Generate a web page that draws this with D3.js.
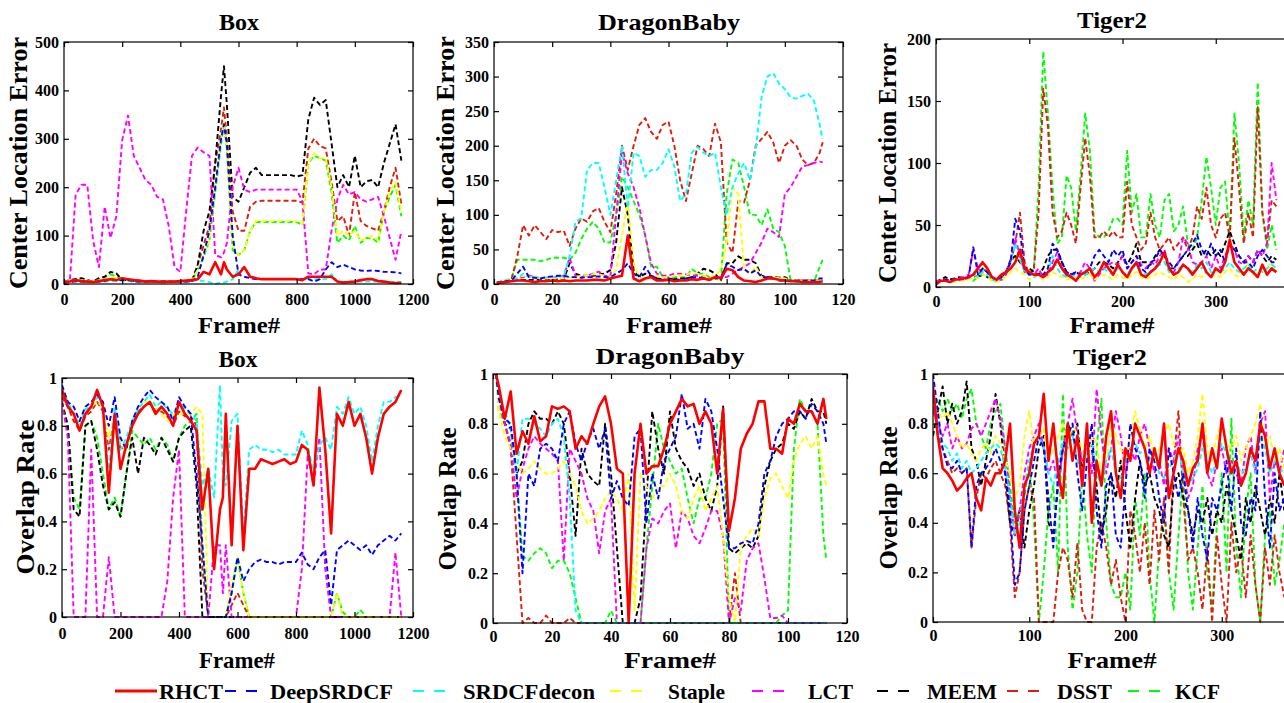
<!DOCTYPE html>
<html><head><meta charset="utf-8">
<script src="https://cdn.jsdelivr.net/npm/d3@7"></script>
<style>
body{margin:0;background:#fff;}
svg text{font-family:"Liberation Serif","Times New Roman",serif;font-weight:bold;fill:#000;}
</style></head><body>
<svg id="chart" width="1284" height="703"></svg>
<script>
// ---------------- DATA ----------------
const seriesNames = ["RHCT","DeepSRDCF","SRDCFdecon","Staple","LCT","MEEM","DSST","KCF"];
const seriesColors = ["#ff0000","#0000ff","#00ffff","#ffff00","#ff00ff","#000000","#dc1e0e","#00ff00"];

// tick values / labels
const boxXTicks = [0,200,400,600,800,1000,1200];
const dbXTicks = [0,20,40,60,80,100,120];
const t2XTicks = [0,100,200,300];
const boxCleYTicks = [0,100,200,300,400,500];
const dbCleYTicks = [0,50,100,150,200,250,300,350];
const t2CleYTicks = [0,50,100,150,200];
const orYTicks = [0,0.2,0.4,0.6,0.8,1];
const orYTickLabels = ["0","0.2","0.4","0.6","0.8","1"];

// ---- Box ----
const boxFrames = [0,20,40,60,80,100,120,140,160,180,
 200,220,240,260,280,300,320,340,360,380,
 400,420,440,460,480,500,520,540,550,560,
 580,600,620,640,660,680,700,720,740,760,
 780,800,820,840,860,880,900,920,940,960,
 980,1000,1020,1040,1060,1080,1100,1120,1140,1160];

const boxCleRHCT = [3,5,8,6,5,4,6,8,10,8, 12,10,8,7,5,6,5,4,5,5, 6,7,8,10,25,20,45,20,45,30, 15,20,35,15,12,10,10,10,10,10, 10,10,8,15,15,15,15,15,5,3, 4,5,8,10,10,6,5,3,2,2];
const boxCleDeepSRDCF = [3,4,6,5,4,4,5,6,10,8, 8,8,6,5,5,5,5,4,4,5, 5,5,6,15,60,110,200,300,330,290, 100,20,15,12,10,10,10,10,10,10, 10,10,10,10,5,10,30,45,35,40, 35,30,28,27,28,27,25,25,24,22];
const boxCleSRDCFdecon = [3,4,5,5,4,4,5,5,6,6, 7,6,5,5,5,4,4,4,4,4, 5,5,6,8,6,4,0,3,3,5, 10,30,35,15,10,10,10,10,10,10, 10,10,10,10,10,10,10,20,5,5, 5,5,5,5,5,5,5,4,4,4];
const boxCleStaple = [5,6,8,8,6,5,8,10,15,12, 10,8,6,6,5,5,5,5,5,5, 6,6,7,30,60,90,200,300,335,290, 80,60,70,110,130,130,130,130,130,130, 130,130,125,250,270,260,260,200,100,110, 100,110,90,95,100,90,150,190,210,150];
const boxCleLCT = [5,5,185,205,205,90,35,160,95,140, 297,348,265,240,215,205,180,175,120,35, 25,150,265,282,272,265,60,55,65,85, 200,240,195,190,195,195,195,195,195,195, 195,195,170,22,20,30,30,110,175,205, 185,190,175,170,175,180,140,95,50,110];
const boxCleMEEM = [5,8,10,12,8,5,12,15,25,22, 8,8,6,5,5,5,5,6,5,5, 5,5,6,40,110,150,250,390,450,370, 180,170,200,230,240,225,225,225,225,225, 225,222,225,340,385,370,380,290,200,225, 200,265,200,212,215,200,250,290,330,255];
const boxCleDSST = [4,5,6,6,5,5,6,8,10,8, 8,7,5,5,5,5,5,5,5,5, 5,6,7,40,80,120,250,320,365,300, 150,110,110,160,170,172,172,172,172,172, 172,172,168,280,300,285,280,210,130,140, 100,190,130,120,115,110,150,200,240,165];
const boxCleKCF = [5,6,10,10,8,5,10,12,20,15, 12,8,6,6,5,5,5,5,5,5, 6,6,7,30,55,90,190,290,330,280, 70,60,70,110,128,128,128,128,128,128, 128,128,122,250,265,260,255,190,85,100, 90,120,85,95,95,85,150,180,205,140];

const boxOrRHCT = [0.95,0.88,0.85,0.78,0.85,0.88,0.95,0.88,0.52,0.85, 0.62,0.72,0.8,0.85,0.88,0.9,0.85,0.88,0.85,0.8, 0.9,0.85,0.82,0.78,0.45,0.62,0.2,0.45,0.5,0.85, 0.3,0.8,0.28,0.62,0.62,0.66,0.65,0.64,0.65,0.66, 0.64,0.65,0.72,0.7,0.55,0.96,0.7,0.35,0.85,0.8, 0.9,0.8,0.85,0.75,0.6,0.75,0.85,0.88,0.9,0.95];
const boxOrDeepSRDCF = [0.97,0.9,0.88,0.82,0.88,0.9,0.93,0.9,0.8,0.92, 0.75,0.7,0.82,0.88,0.92,0.95,0.92,0.9,0.88,0.82, 0.92,0.88,0.85,0.6,0.3,0,0,0,0,0, 0.1,0.25,0.15,0.2,0.23,0.24,0.23,0.23,0.22,0.23, 0.23,0.23,0.27,0.22,0.2,0.25,0.28,0.05,0.28,0.3, 0.32,0.3,0.28,0.3,0.26,0.3,0.32,0.34,0.32,0.35];
const boxOrSRDCFdecon = [0.95,0.9,0.85,0.8,0.87,0.88,0.92,0.9,0.6,0.88, 0.7,0.75,0.82,0.87,0.9,0.93,0.88,0.9,0.87,0.85, 0.9,0.87,0.85,0.82,0.55,0.62,0.5,0.97,0.6,0.55, 0.82,0.85,0.35,0.7,0.72,0.7,0.7,0.69,0.7,0.68, 0.68,0.68,0.78,0.72,0.6,0.72,0.75,0.7,0.88,0.85, 0.92,0.85,0.88,0.8,0.65,0.8,0.9,0.9,0.92,0.93];
const boxOrStaple = [0.95,0.9,0.85,0.8,0.85,0.88,0.9,0.88,0.75,0.85, 0.72,0.7,0.8,0.88,0.9,0.9,0.88,0.85,0.82,0.85, 0.85,0.85,0.85,0.88,0.85,0,0,0,0,0, 0.15,0.25,0.1,0,0,0,0,0,0,0, 0,0,0,0,0,0,0,0,0.1,0, 0,0,0,0,0,0,0,0,0,0];
const boxOrLCT = [0.9,0.75,0,0,0,0.7,0,0,0.25,0, 0,0,0,0,0,0,0,0,0.15,0.5, 0.7,0,0,0,0,0,0.3,0.3,0.1,0.3, 0,0,0,0,0,0,0,0,0,0, 0,0,0.2,0.68,0.55,0.75,0.2,0,0,0, 0,0,0,0,0,0,0,0,0.27,0];
const boxOrMEEM = [0.9,0.8,0.45,0.42,0.8,0.82,0.7,0.55,0.45,0.48, 0.42,0.6,0.75,0.6,0.75,0.72,0.68,0.75,0.7,0.65, 0.75,0.78,0.8,0.55,0,0,0,0,0,0, 0,0,0,0,0,0,0,0,0,0, 0,0,0,0,0,0,0,0,0,0, 0,0,0,0,0,0,0,0,0,0];
const boxOrDSST = [0.92,0.88,0.82,0.78,0.84,0.86,0.9,0.86,0.7,0.84, 0.7,0.72,0.8,0.86,0.88,0.9,0.86,0.86,0.84,0.8, 0.86,0.84,0.84,0.8,0.2,0,0,0,0,0, 0.05,0.1,0.05,0,0,0,0,0,0,0, 0,0,0,0,0,0,0,0,0,0, 0,0,0,0,0,0,0,0,0,0];
const boxOrKCF = [0.9,0.8,0.5,0.45,0.8,0.82,0.75,0.6,0.45,0.5, 0.42,0.6,0.78,0.75,0.72,0.75,0.7,0.75,0.72,0.65, 0.75,0.8,0.82,0.85,0.3,0,0,0,0,0, 0.1,0.25,0.1,0,0,0,0,0,0,0, 0,0,0,0,0,0,0,0,0.1,0.02, 0,0,0.03,0,0,0,0,0,0,0];

// ---- DragonBaby ----
const dbFrames = [1,2,4,6,8,10,12,14,16,18, 20,22,24,26,28,30,32,34,36,38, 40,42,44,46,48,50,52,54,56,58, 60,62,64,66,68,70,72,74,76,78, 80,82,84,86,88,90,92,94,96,98, 100,102,104,106,108,110,112,113];

const dbCleRHCT = [1,2,3,4,5,5,4,3,4,4, 5,4,5,4,5,5,5,6,6,5, 8,10,12,70,8,4,8,10,5,5, 6,4,5,5,7,6,8,6,10,8, 22,20,10,5,4,3,5,8,8,6, 5,4,4,3,3,3,3,4];
const dbCleDeepSRDCF = [2,3,4,5,15,25,10,9,8,10, 11,12,12,10,10,9,10,10,11,10, 10,15,20,30,15,10,25,12,8,6, 8,7,6,8,10,10,8,6,8,10, 28,25,20,22,15,20,10,10,8,5, 5,5,5,5,5,5,8,8];
const dbCleSRDCFdecon = [2,3,5,6,8,15,10,10,9,9, 10,11,11,40,90,95,165,175,175,140, 100,150,200,110,190,185,155,165,165,175, 195,170,120,130,190,198,190,185,190,140, 100,140,160,175,150,195,270,300,305,290, 282,270,268,272,275,265,230,210];
const dbCleStaple = [2,3,5,8,10,12,10,10,8,8, 8,8,8,10,10,12,12,14,14,12, 10,20,70,120,30,10,8,10,12,10, 10,12,12,14,16,15,12,10,12,20, 60,140,130,20,15,25,10,8,8,10, 8,6,5,5,5,5,5,8];
const dbCleLCT = [2,3,4,5,8,10,12,10,8,9, 10,10,12,38,12,10,12,15,18,12, 10,100,190,160,140,110,70,30,15,12, 12,15,15,14,13,12,10,10,10,10, 10,15,20,25,30,45,60,80,75,68, 130,140,155,170,172,175,177,176];
const dbCleMEEM = [2,3,4,5,6,6,6,6,6,6, 6,7,7,30,15,12,12,12,14,15, 20,60,140,100,20,10,15,12,8,7, 6,7,8,8,10,15,22,20,15,5, 30,30,40,35,35,30,12,10,10,10, 10,5,5,5,5,5,5,5];
const dbCleDSST = [0,2,4,6,40,85,70,85,75,65, 78,75,77,55,80,95,90,105,110,90, 75,130,200,165,200,230,240,220,210,230, 235,200,150,120,160,200,195,185,232,205, 60,45,120,118,150,200,210,220,205,175, 200,208,200,180,172,175,190,205];
const dbCleKCF = [2,3,5,8,35,35,35,35,33,35, 38,38,38,35,45,65,80,90,80,60, 60,100,155,140,120,100,70,25,25,10, 10,10,10,10,22,15,15,10,8,5, 130,180,175,140,100,100,85,108,80,75, 55,5,3,3,3,3,25,35];

const dbOrRHCT = [1.0,0.95,0.82,0.93,0.68,0.77,0.72,0.83,0.73,0.75, 0.87,0.86,0.87,0.85,0.7,0.75,0.72,0.8,0.87,0.91, 0.8,0.62,0.6,0,0.6,0.8,0.6,0.63,0.63,0.7, 0.8,0.85,0.9,0.87,0.88,0.8,0.85,0.8,0.6,0.86, 0.37,0.5,0.7,0.76,0.8,0.89,0.89,0.7,0.7,0.68, 0.82,0.8,0.88,0.85,0.85,0.8,0.9,0.82];
const dbOrDeepSRDCF = [1.0,0.9,0.82,0.8,0.6,0.2,0.6,0.55,0.7,0.72, 0.7,0.65,0.8,0.85,0.72,0.65,0.73,0.78,0.7,0.78, 0.5,0.57,0.5,0.47,0.75,0.78,0.4,0.6,0.5,0.65, 0.7,0.75,0.92,0.78,0.8,0.7,0.9,0.85,0.7,0.5, 0.3,0.3,0.32,0.33,0.32,0.4,0.6,0.65,0.75,0.8, 0.82,0.85,0.85,0.82,0.88,0.85,0.8,0.72];
const dbOrSRDCFdecon = [1.0,0.9,0.85,0.78,0.6,0.82,0.82,0.8,0.78,0.75, 0.8,0.82,0.75,0.5,0.05,0,0,0,0,0, 0,0,0,0,0,0,0,0,0,0, 0,0,0,0,0,0,0,0,0,0, 0,0,0,0,0,0,0,0,0,0, 0,0,0,0,0,0,0,0];
const dbOrStaple = [1.0,0.85,0.75,0.7,0.65,0.6,0.62,0.65,0.62,0.6, 0.6,0.62,0.65,0.6,0.55,0.45,0.4,0.42,0.45,0.5, 0.53,0.5,0.45,0.6,0.05,0.6,0.55,0.5,0.55,0.55, 0.6,0.55,0.45,0.42,0.5,0.55,0.45,0.5,0.55,0.35, 0.1,0,0.3,0.35,0.38,0.35,0.5,0.58,0.6,0.55, 0.5,0.65,0.72,0.75,0.7,0.75,0.6,0.55];
const dbOrLCT = [1.0,0.9,0.8,0.72,0.5,0.62,0.7,0.75,0.72,0.7, 0.68,0.65,0.25,0.7,0.65,0.6,0.5,0.45,0.28,0.45, 0.5,0,0,0,0,0,0.3,0.42,0.4,0.45, 0.48,0.3,0.45,0.42,0.35,0.32,0.38,0.45,0.45,0.35, 0,0.1,0.05,0.25,0.3,0.32,0.18,0.02,0.02,0.03, 0,0,0,0,0,0,0,0];
const dbOrMEEM = [1.0,0.92,0.8,0.78,0.6,0.65,0.8,0.85,0.82,0.82, 0.8,0.85,0.8,0.6,0.35,0.7,0.6,0.57,0.55,0.8, 0.6,0.3,0,0,0,0.1,0.5,0.85,0.7,0.6, 0.85,0.7,0.65,0.62,0.55,0.6,0.5,0.45,0.55,0.87, 0.3,0.28,0.3,0.32,0.3,0.35,0.55,0.65,0.7,0.72, 0.8,0.78,0.85,0.82,0.9,0.85,0.85,0.8];
const dbOrDSST = [1.0,0.9,0.8,0.7,0.35,0,0.02,0,0,0.03, 0,0,0,0.02,0,0,0,0,0,0, 0,0,0,0,0,0,0,0,0,0, 0,0,0,0,0,0,0,0,0,0, 0,0.2,0,0,0,0,0,0,0,0, 0,0,0,0,0,0,0,0];
const dbOrKCF = [1.0,0.85,0.8,0.72,0.6,0.27,0.25,0.28,0.3,0.28, 0.22,0.25,0.25,0.2,0.1,0,0,0,0,0, 0.05,0,0,0,0,0,0.3,0.55,0.8,0.7, 0.65,0.6,0.62,0.5,0.4,0.5,0.5,0.6,0.8,0.82, 0,0,0,0,0,0,0,0,0,0.03, 0.05,0.7,0.9,0.85,0.85,0.8,0.35,0.25];

// ---- Tiger2 ----
const t2Frames = [0,5,10,15,20,25,30,35,40,45, 50,55,60,65,70,75,80,85,90,95, 100,105,110,115,120,125,130,135,140,145, 150,155,160,165,170,175,180,185,190,195, 200,205,210,215,220,225,230,235,240,245, 250,255,260,265,270,275,280,285,290,295, 300,305,310,315,320,325,330,335,340,345, 350,355,360,365];

const t2CleRHCT = [2,5,5,4,6,6,7,8,10,15, 20,15,8,6,10,12,15,20,30,15, 12,10,10,8,12,15,22,15,10,8, 5,10,12,15,8,12,20,15,10,18, 12,8,15,20,10,8,12,15,20,28, 15,10,12,18,15,10,15,20,12,8, 15,12,20,38,20,15,10,15,12,8, 18,10,15,12];
const t2CleDeepSRDCF = [3,5,6,5,6,7,6,8,32,10, 15,12,8,6,8,12,20,55,45,15, 10,10,10,10,15,35,30,20,12,10, 12,10,12,15,25,30,25,20,30,25, 30,15,20,25,15,12,20,22,30,25, 20,15,20,25,30,35,42,30,25,35, 25,30,20,35,30,25,20,20,15,25, 30,25,20,20];
const t2CleSRDCFdecon = [3,5,5,4,5,6,6,7,10,8, 12,10,6,5,8,12,20,35,22,12, 10,8,10,8,12,25,15,10,8,8, 10,8,10,12,15,12,15,12,10,15, 12,10,15,18,12,10,12,15,18,20, 12,10,15,18,15,12,18,15,20,12, 15,12,15,20,15,12,15,18,12,15, 12,15,18,15];
const t2CleStaple = [3,4,5,4,4,5,5,6,8,7, 10,8,5,4,6,8,12,15,12,10, 6,8,10,6,8,12,10,8,6,7, 8,6,8,10,6,8,10,8,6,10, 8,6,10,12,8,6,8,10,12,10, 8,6,10,8,4,6,10,8,12,8, 10,8,12,15,10,8,12,20,10,8, 12,15,20,12];
const t2CleLCT = [5,5,5,6,6,8,8,10,30,15, 12,12,8,5,6,10,22,40,25,12, 10,10,15,8,10,20,28,15,12,10, 10,12,20,15,5,10,15,18,20,18, 25,15,20,25,18,15,20,18,25,30, 15,12,20,40,35,20,18,20,25,15, 25,15,25,35,30,20,18,25,20,30, 25,35,100,70];
const t2CleMEEM = [4,6,8,6,7,8,6,8,10,8, 10,8,6,5,8,12,22,25,20,15, 15,12,10,15,25,30,30,20,12,10, 12,10,10,12,15,20,20,18,15,20, 25,18,25,35,20,20,18,25,30,25, 15,15,20,25,25,30,35,25,30,25, 30,25,35,45,35,25,20,25,20,30, 25,20,25,22];
const t2CleDSST = [3,5,6,5,6,7,6,8,8,8, 15,12,8,6,8,12,20,35,60,20, 10,15,60,160,130,60,40,45,60,50, 35,80,120,90,40,40,45,40,45,40, 40,85,50,40,30,35,60,40,30,35, 40,30,35,40,30,40,65,55,80,50, 40,55,60,40,120,80,35,60,40,145, 60,35,70,65];
const t2CleKCF = [3,5,6,5,6,7,6,8,5,8, 15,12,8,5,5,10,20,25,25,15, 10,15,80,190,140,80,35,40,90,80, 45,90,140,110,45,40,40,45,55,55, 50,110,60,75,40,40,75,50,40,70, 75,45,50,65,35,30,40,70,105,80, 50,80,85,40,140,100,40,70,50,165, 60,30,50,30];

const t2OrRHCT = [0.95,0.75,0.62,0.6,0.57,0.53,0.55,0.58,0.6,0.5, 0.45,0.58,0.55,0.6,0.6,0.65,0.8,0.45,0.3,0.55, 0.6,0.72,0.75,0.92,0.65,0.8,0.6,0.5,0.8,0.65, 0.75,0.55,0.8,0.4,0.65,0.55,0.75,0.85,0.6,0.5, 0.7,0.65,0.8,0.75,0.7,0.6,0.7,0.62,0.8,0.5, 0.6,0.7,0.65,0.55,0.62,0.65,0.8,0.6,0.7,0.62, 0.82,0.7,0.6,0.65,0.55,0.6,0.7,0.65,0.8,0.75, 0.62,0.7,0.6,0.55];
const t2OrDeepSRDCF = [1.0,0.85,0.7,0.63,0.62,0.65,0.6,0.62,0.3,0.55, 0.6,0.62,0.65,0.7,0.65,0.6,0.45,0.15,0.2,0.45, 0.55,0.65,0.75,0.7,0.5,0.3,0.6,0.7,0.75,0.8, 0.6,0.45,0.65,0.8,0.45,0.3,0.55,0.6,0.35,0.3, 0.55,0.8,0.7,0.65,0.5,0.7,0.65,0.5,0.4,0.7, 0.6,0.5,0.6,0.45,0.3,0.5,0.35,0.25,0.5,0.45, 0.55,0.65,0.45,0.7,0.4,0.35,0.5,0.45,0.85,0.5, 0.3,0.6,0.45,0.5];
const t2OrSRDCFdecon = [0.9,0.8,0.72,0.7,0.65,0.68,0.62,0.65,0.6,0.62, 0.65,0.68,0.7,0.72,0.7,0.62,0.5,0.35,0.4,0.55, 0.65,0.72,0.75,0.7,0.6,0.55,0.65,0.72,0.7,0.75, 0.65,0.6,0.7,0.72,0.6,0.55,0.65,0.7,0.6,0.58, 0.65,0.7,0.72,0.68,0.7,0.65,0.68,0.6,0.58,0.62, 0.65,0.7,0.6,0.55,0.58,0.62,0.7,0.65,0.6,0.65, 0.72,0.68,0.6,0.65,0.6,0.62,0.68,0.6,0.75,0.7, 0.6,0.65,0.6,0.62];
const t2OrStaple = [0.9,0.85,0.82,0.85,0.8,0.75,0.7,0.72,0.68,0.65, 0.7,0.72,0.68,0.75,0.72,0.65,0.6,0.5,0.55,0.75, 0.85,0.7,0.75,0.78,0.65,0.7,0.75,0.8,0.7,0.8, 0.75,0.7,0.65,0.75,0.72,0.6,0.65,0.8,0.75,0.7, 0.65,0.75,0.85,0.78,0.7,0.75,0.65,0.7,0.75,0.8, 0.72,0.68,0.7,0.6,0.65,0.75,0.92,0.7,0.65,0.75, 0.8,0.72,0.7,0.75,0.65,0.7,0.75,0.8,0.88,0.7, 0.75,0.65,0.7,0.6];
const t2OrLCT = [0.85,0.8,0.75,0.8,0.7,0.75,0.7,0.72,0.78,0.8, 0.75,0.8,0.85,0.9,0.82,0.7,0.5,0.35,0.45,0.6, 0.7,0.75,0.8,0.7,0.6,0.65,0.55,0.7,0.8,0.9, 0.75,0.65,0.7,0.6,0.94,0.75,0.6,0.7,0.85,0.75, 0.6,0.7,0.65,0.75,0.8,0.7,0.6,0.65,0.55,0.7, 0.65,0.75,0.6,0.5,0.55,0.7,0.75,0.6,0.55,0.65, 0.7,0.6,0.65,0.6,0.55,0.7,0.75,0.6,0.8,0.85, 0.5,0.65,0.6,0.7];
const t2OrMEEM = [0.75,0.85,0.95,0.8,0.88,0.8,0.85,0.97,0.7,0.65, 0.55,0.65,0.75,0.92,0.8,0.6,0.4,0.35,0.45,0.3, 0.45,0.55,0.7,0.75,0.4,0.35,0.55,0.7,0.8,0.75, 0.8,0.6,0.75,0.7,0.55,0.35,0.45,0.6,0.5,0.65, 0.45,0.3,0.5,0.65,0.55,0.6,0.5,0.45,0.35,0.3, 0.55,0.6,0.5,0.45,0.35,0.45,0.4,0.5,0.35,0.45, 0.4,0.55,0.45,0.35,0.25,0.5,0.4,0.55,0.45,0.35, 0.5,0.4,0.6,0.45];
const t2OrDSST = [0.9,0.75,0.7,0.65,0.6,0.62,0.6,0.62,0.3,0.5, 0.6,0.58,0.62,0.65,0.6,0.55,0.4,0.1,0.2,0.45, 0.55,0.5,0,0,0,0,0.2,0.3,0.25,0.1, 0.32,0.05,0,0,0.3,0.4,0.3,0.15,0.25,0.1, 0,0.45,0.35,0.2,0.4,0.15,0.45,0.25,0.5,0.2, 0.65,0.85,0.5,0.25,0.3,0.2,0.05,0.3,0,0.35, 0.15,0,0.4,0.2,0.3,0.1,0.35,0.15,0,0.3, 0.15,0.35,0.2,0.1];
const t2OrKCF = [0.85,0.9,0.85,0.9,0.85,0.88,0.82,0.9,0.94,0.8, 0.75,0.7,0.8,0.85,0.88,0.7,0.55,0.4,0.45,0.5, 0.65,0.4,0,0.2,0.45,0.55,0.2,0.92,0.3,0.05, 0.2,0.6,0.35,0.2,0.7,0.9,0.4,0.15,0.1,0.1, 0.2,0.05,0.5,0.35,0.6,0.2,0,0.3,0.45,0.2, 0.05,0.35,0.6,0.2,0.05,0.3,0.55,0.2,0.05,0.4, 0.6,0.2,0.82,0.3,0.1,0.45,0.6,0.15,0,0.35, 0.45,0.15,0.25,0.4];

// ---------------- LAYOUT ----------------
const panels = [
 {title:"Box", yLabel:"Center Location Error", frames:boxFrames,
  series:[boxCleRHCT,boxCleDeepSRDCF,boxCleSRDCFdecon,boxCleStaple,boxCleLCT,boxCleMEEM,boxCleDSST,boxCleKCF],
  xDomain:[0,1200], yDomain:[0,500], xTicks:boxXTicks, yTicks:boxCleYTicks, yTickLabels:null,
  L:64,R:413,T:42,B:284, tX:239,tY:30,tLen:40, yx:18,yy:163,yLen:252, fx:239,fy:333,fLen:82, xPad:10},
 {title:"DragonBaby", yLabel:"Center Location Error", frames:dbFrames,
  series:[dbCleRHCT,dbCleDeepSRDCF,dbCleSRDCFdecon,dbCleStaple,dbCleLCT,dbCleMEEM,dbCleDSST,dbCleKCF],
  xDomain:[0,120], yDomain:[0,350], xTicks:dbXTicks, yTicks:dbCleYTicks, yTickLabels:null,
  L:494,R:843,T:42,B:284, tX:669,tY:30,tLen:142, yx:445,yy:163,yLen:254, fx:669,fy:333,fLen:86, xPad:10},
 {title:"Tiger2", yLabel:"Center Location Error", frames:t2Frames,
  series:[t2CleRHCT,t2CleDeepSRDCF,t2CleSRDCFdecon,t2CleStaple,t2CleLCT,t2CleMEEM,t2CleDSST,t2CleKCF],
  xDomain:[0,400], yDomain:[0,200], xTicks:t2XTicks, yTicks:t2CleYTicks, yTickLabels:null,
  L:936,R:1309,T:39,B:287, tX:1112,tY:28,tLen:70, yx:887,yy:163,yLen:240, fx:1112,fy:333,fLen:85, xPad:9},
 {title:"Box", yLabel:"Overlap Rate", frames:boxFrames,
  series:[boxOrRHCT,boxOrDeepSRDCF,boxOrSRDCFdecon,boxOrStaple,boxOrLCT,boxOrMEEM,boxOrDSST,boxOrKCF],
  xDomain:[0,1200], yDomain:[0,1], xTicks:boxXTicks, yTicks:orYTicks, yTickLabels:orYTickLabels,
  L:62,R:413,T:378,B:617, tX:238,tY:367,tLen:39, yx:25,yy:497,yLen:155, fx:237,fy:668,fLen:76, xPad:11},
 {title:"DragonBaby", yLabel:"Overlap Rate", frames:dbFrames,
  series:[dbOrRHCT,dbOrDeepSRDCF,dbOrSRDCFdecon,dbOrStaple,dbOrLCT,dbOrMEEM,dbOrDSST,dbOrKCF],
  xDomain:[0,120], yDomain:[0,1], xTicks:dbXTicks, yTicks:orYTicks, yTickLabels:orYTickLabels,
  L:493,R:847,T:374,B:623, tX:670,tY:364,tLen:149, yx:447,yy:499,yLen:143, fx:670,fy:668,fLen:92, xPad:8},
 {title:"Tiger2", yLabel:"Overlap Rate", frames:t2Frames,
  series:[t2OrRHCT,t2OrDeepSRDCF,t2OrSRDCFdecon,t2OrStaple,t2OrLCT,t2OrMEEM,t2OrDSST,t2OrKCF],
  xDomain:[0,400], yDomain:[0,1], xTicks:t2XTicks, yTicks:orYTicks, yTickLabels:orYTickLabels,
  L:933,R:1318,T:374,B:622, tX:1110,tY:365,tLen:74, yx:888,yy:498,yLen:143, fx:1112,fy:668,fLen:89, xPad:8}
];

const legendLayout = [
 {lx1:115,lx2:157,tx:159,tLen:64},
 {lx1:225,lx2:258,tx:270,tLen:123},
 {lx1:413,lx2:445,tx:463,tLen:132},
 {lx1:610,lx2:643,tx:668,tLen:57},
 {lx1:752,lx2:785,tx:808,tLen:45},
 {lx1:877,lx2:910,tx:927,tLen:70},
 {lx1:1007,lx2:1040,tx:1057,tLen:55},
 {lx1:1128,lx2:1162,tx:1175,tLen:45}
];

// ---------------- DRAW ----------------
const svg = d3.select("#chart");
svg.append("rect").attr("width",1284).attr("height",703).attr("fill","#fff");
const defs = svg.append("defs");
const drawOrder = [7,6,5,4,3,2,1,0];

panels.forEach((p, pi) => {
  const x = d3.scaleLinear().domain(p.xDomain).range([p.L, p.R]);
  const y = d3.scaleLinear().domain(p.yDomain).range([p.B, p.T]);
  const g = svg.append("g");
  const cid = "clip" + pi;
  defs.append("clipPath").attr("id", cid).append("rect")
    .attr("x", p.L).attr("y", p.T - 2).attr("width", p.R - p.L).attr("height", p.B - p.T + 4);

  const lg = g.append("g").attr("clip-path", `url(#${cid})`);
  drawOrder.forEach(si => {
    const vals = p.series[si];
    const line = d3.line().x((d, i) => x(p.frames[i])).y(d => y(d));
    lg.append("path").datum(vals)
      .attr("d", line)
      .attr("fill", "none")
      .attr("stroke", seriesColors[si])
      .attr("stroke-width", si === 0 ? 2.6 : 1.9)
      .attr("stroke-dasharray", si === 0 ? null : "5,3")
      .attr("stroke-linejoin", "round");
  });

  // frame box
  g.append("rect").attr("x", p.L).attr("y", p.T).attr("width", p.R - p.L).attr("height", p.B - p.T)
    .attr("fill", "none").attr("stroke", "#000").attr("stroke-width", 1.2);

  const fmtY = p.yTickLabels ? ((d, i) => p.yTickLabels[i]) : d3.format("d");
  const styleAxis = sel => {
    sel.select(".domain").remove();
    sel.selectAll(".tick line").attr("stroke", "#000").attr("stroke-width", 1.2);
    sel.selectAll("text").style("font-size", "16px").style("font-weight", "bold")
      .style("font-family", '"Liberation Serif","Times New Roman",serif').attr("fill", "#000");
  };
  g.append("g").attr("transform", `translate(0,${p.B})`)
    .call(d3.axisBottom(x).tickValues(p.xTicks).tickFormat(d3.format("d")).tickSizeInner(-5).tickSizeOuter(0).tickPadding(p.xPad))
    .call(styleAxis);
  g.append("g").attr("transform", `translate(0,${p.T})`)
    .call(d3.axisTop(x).tickValues(p.xTicks).tickFormat("").tickSizeInner(-5).tickSizeOuter(0))
    .call(styleAxis);
  g.append("g").attr("transform", `translate(${p.L},0)`)
    .call(d3.axisLeft(y).tickValues(p.yTicks).tickFormat(fmtY).tickSizeInner(-5).tickSizeOuter(0).tickPadding(5))
    .call(styleAxis);
  g.append("g").attr("transform", `translate(${p.R},0)`)
    .call(d3.axisRight(y).tickValues(p.yTicks).tickFormat("").tickSizeInner(-5).tickSizeOuter(0))
    .call(styleAxis);

  // titles & labels
  g.append("text").attr("x", p.tX).attr("y", p.tY).attr("text-anchor", "middle")
    .style("font-size", "24px").attr("textLength", p.tLen).attr("lengthAdjust", "spacingAndGlyphs").text(p.title);
  g.append("text").attr("x", p.fx).attr("y", p.fy).attr("text-anchor", "middle")
    .style("font-size", "23px").attr("textLength", p.fLen).attr("lengthAdjust", "spacingAndGlyphs").text("Frame#");
  g.append("text").attr("transform", `translate(${p.yx},${p.yy}) rotate(-90)`)
    .attr("text-anchor", "middle").attr("dominant-baseline", "central")
    .style("font-size", "26px").attr("textLength", p.yLen).attr("lengthAdjust", "spacingAndGlyphs").text(p.yLabel);
});

// legend
const leg = svg.append("g");
seriesNames.forEach((name, i) => {
  const L = legendLayout[i];
  leg.append("line").attr("x1", L.lx1).attr("x2", L.lx2).attr("y1", 691).attr("y2", 691)
    .attr("stroke", seriesColors[i]).attr("stroke-width", i === 0 ? 3 : 2.2)
    .attr("stroke-dasharray", i === 0 ? null : "11,10");
  leg.append("text").attr("x", L.tx).attr("y", 699).style("font-size", "21px")
    .attr("textLength", L.tLen).attr("lengthAdjust", "spacingAndGlyphs").text(name);
});
</script>
</body></html>
